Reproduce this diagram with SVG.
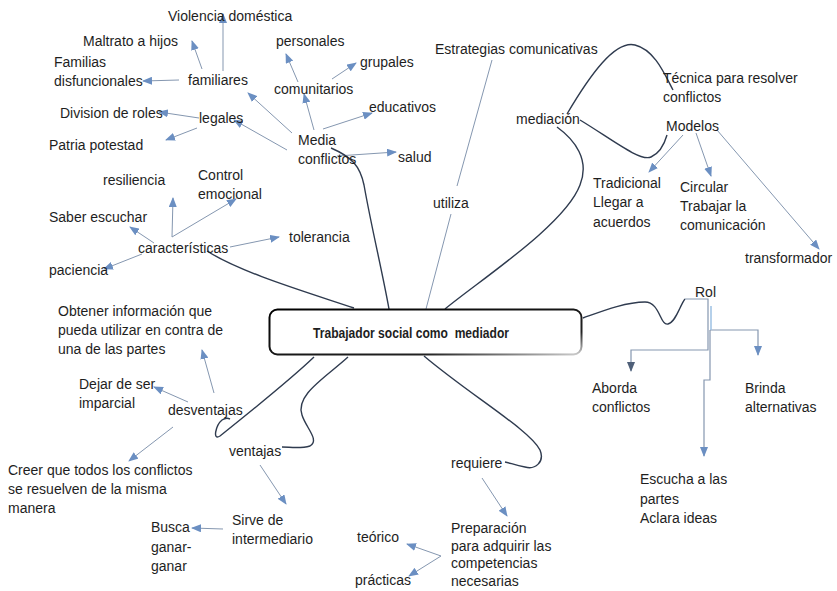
<svg xmlns="http://www.w3.org/2000/svg" width="837" height="591" viewBox="0 0 837 591">
<style>
text{font-family:"Liberation Sans",Arial,sans-serif;font-size:14px;fill:#1e1e1e}
.a{fill:none;stroke:#8597b0;stroke-width:1;marker-end:url(#ah)}
.c{fill:none;stroke:#2f3b4f;stroke-width:1.4}
.t{fill:none;stroke:#8597b0;stroke-width:1}
.r{fill:none;stroke:#8597b0;stroke-width:1.2}
</style>
<defs>
<marker id="ah" markerWidth="10" markerHeight="8" refX="9" refY="4" orient="auto" markerUnits="userSpaceOnUse"><path d="M0,0 L10,4 L0,8 z" fill="#6b8fc2"/></marker>
<marker id="ah2" markerWidth="10" markerHeight="8" refX="9" refY="4" orient="auto" markerUnits="userSpaceOnUse"><path d="M0,0 L10,4 L0,8 z" fill="#4f6079"/></marker>
<linearGradient id="bg" x1="0" y1="0" x2="1" y2="1">
<stop offset="0" stop-color="#000"/><stop offset="0.75" stop-color="#222"/><stop offset="1" stop-color="#cfcfcf"/>
</linearGradient>
</defs>
<rect width="837" height="591" fill="#fff"/>

<g id="connectors">
<path class="a" d="M223,71 L223,14"/>
<path class="a" d="M202,69 L192,41"/>
<path class="a" d="M179,80 L143,81"/>
<path class="a" d="M292,133 L248,93"/>
<path class="a" d="M314,130 L304,94"/>
<path class="a" d="M298,82 L286,54"/>
<path class="a" d="M332,79 L356,63"/>
<path class="a" d="M323,129 L372,113"/>
<path class="a" d="M287,150 L234,120"/>
<path class="a" d="M199,118 L159,112"/>
<path class="a" d="M197,128 L166,140"/>
<path class="a" d="M337,156 L396,152"/>
<path class="c" d="M331,148 C352,157 360,166 364,185 C372,230 382,270 389,309"/>
<path class="a" d="M172,237 L173,198"/>
<path class="a" d="M172,237 L236,199"/>
<path class="a" d="M154,243 L130,227"/>
<path class="a" d="M230,247 L279,237"/>
<path class="a" d="M142,254 L104,269"/>
<path class="c" d="M207,251 C240,272 300,290 354,308"/>
<path class="t" d="M492,60 L457,186"/>
<path class="t" d="M451,214 L426,309"/>
<path class="c" d="M567,114 C590,75 615,40 635,45 C655,50 665,75 673,90"/>
<path class="c" d="M580,120 C610,138 640,162 651,157 C660,153 665,142 667,135"/>
<path class="c" d="M557,127 C575,140 590,160 580,185 C565,225 480,280 445,309"/>
<path class="a" d="M683,135 L649,172"/>
<path class="a" d="M696,133 L711,176"/>
<path class="a" d="M717,130 L819,249"/>
<path class="c" d="M583,318 C600,312 625,302 645,302 C660,302 660,326 668,324 C676,322 680,305 685,299"/>
<path class="r" d="M685,299 L708,299 L708,350 L631,350 L631,371" style="marker-end:url(#ah2)"/>
<path class="r" d="M710,330 L758,330 L758,355" style="marker-end:url(#ah)"/>
<path class="r" d="M710,330 L710,380 L704,380 L704,456" style="marker-end:url(#ah)"/>
<path d="M711,306 L711,330" stroke="#9dc0e3" stroke-width="1.5"/>
<path class="c" d="M314,357 C290,380 240,420 220,436 C212,441 216,425 222,420 C225,418 228,418 230,419"/>
<path class="c" d="M348,357 C325,378 295,395 302,415 C306,428 320,440 310,446 C300,449 290,447 282,447"/>
<path class="c" d="M424,356 C470,395 530,430 540,450 C545,462 535,470 525,467 C515,465 510,463 505,462"/>
<path class="a" d="M214,393 L202,350"/>
<path class="a" d="M188,402 L154,387"/>
<path class="a" d="M173,427 L129,461"/>
<path class="a" d="M260,465 L286,504"/>
<path class="a" d="M223,529 L192,528"/>
<path class="a" d="M482,478 L507,516"/>
<path class="a" d="M441,556 L407,544"/>
<path class="a" d="M441,556 L409,576"/>
</g>

<g id="center">
<rect x="269.5" y="309.5" width="312" height="45" rx="8" fill="#fff" stroke="url(#bg)" stroke-width="2"/>
<text x="313" y="338" font-weight="bold" font-size="13" textLength="196" lengthAdjust="spacingAndGlyphs" xml:space="preserve" style="white-space:pre">Trabajador social como  mediador</text>
</g>

<g id="violencia"><text x="168" y="21">Violencia doméstica</text></g>
<g id="maltrato"><text x="83" y="46">Maltrato a hijos</text></g>
<g id="familias"><text x="54" y="67">Familias<tspan x="54" y="86">disfuncionales</tspan></text></g>
<g id="familiares"><text x="188" y="85">familiares</text></g>
<g id="personales"><text x="276" y="46">personales</text></g>
<g id="grupales"><text x="360" y="67">grupales</text></g>
<g id="comunitarios"><text x="274" y="94">comunitarios</text></g>
<g id="educativos"><text x="369" y="112">educativos</text></g>
<g id="division"><text x="60" y="118">Division de roles</text></g>
<g id="legales"><text x="199" y="123">legales</text></g>
<g id="patria"><text x="49" y="150">Patria potestad</text></g>
<g id="media"><text x="298" y="145">Media<tspan x="298" y="164">conflictos</tspan></text></g>
<g id="salud"><text x="398" y="162">salud</text></g>

<g id="resiliencia"><text x="103" y="185">resiliencia</text></g>
<g id="control"><text x="198" y="180">Control<tspan x="198" y="199">emocional</tspan></text></g>
<g id="saber"><text x="49" y="222">Saber escuchar</text></g>
<g id="caracteristicas"><text x="138" y="253">características</text></g>
<g id="tolerancia"><text x="289" y="242">tolerancia</text></g>
<g id="paciencia"><text x="49" y="275">paciencia</text></g>

<g id="estrategias"><text x="435" y="54">Estrategias comunicativas</text></g>
<g id="utiliza"><text x="433" y="208">utiliza</text></g>
<g id="mediacion"><text x="516" y="124">mediación</text></g>
<g id="tecnica"><text x="663" y="83">Técnica para resolver<tspan x="663" y="102">conflictos</tspan></text></g>
<g id="modelos"><text x="666" y="131">Modelos</text></g>
<g id="tradicional"><text x="593" y="188">Tradicional<tspan x="593" y="207">Llegar a</tspan><tspan x="593" y="227">acuerdos</tspan></text></g>
<g id="circular"><text x="680" y="192">Circular<tspan x="680" y="211">Trabajar la</tspan><tspan x="680" y="230">comunicación</tspan></text></g>
<g id="transformador"><text x="745" y="263">transformador</text></g>

<g id="rol"><text x="695" y="297">Rol</text></g>
<g id="aborda"><text x="592" y="393">Aborda<tspan x="592" y="412">conflictos</tspan></text></g>
<g id="brinda"><text x="745" y="393">Brinda<tspan x="745" y="412">alternativas</tspan></text></g>
<g id="escucha"><text x="640" y="484">Escucha a las<tspan x="640" y="504">partes</tspan><tspan x="640" y="523">Aclara ideas</tspan></text></g>

<g id="obtener"><text x="58" y="316">Obtener información que<tspan x="58" y="335">pueda utilizar en contra de</tspan><tspan x="58" y="354">una de las partes</tspan></text></g>
<g id="dejar"><text x="79" y="389">Dejar de ser<tspan x="79" y="408">imparcial</tspan></text></g>
<g id="desventajas"><text x="168" y="415">desventajas</text></g>
<g id="creer"><text x="8" y="475">Creer que todos los conflictos<tspan x="8" y="494">se resuelven de la misma</tspan><tspan x="8" y="513">manera</tspan></text></g>
<g id="ventajas"><text x="229" y="456">ventajas</text></g>
<g id="sirve"><text x="232" y="525">Sirve de<tspan x="232" y="544">intermediario</tspan></text></g>
<g id="busca"><text x="151" y="532">Busca<tspan x="151" y="552">ganar-</tspan><tspan x="151" y="571">ganar</tspan></text></g>

<g id="requiere"><text x="451" y="468">requiere</text></g>
<g id="preparacion"><text x="451" y="533" font-size="13">Preparación<tspan x="451" y="551">para adquirir las</tspan><tspan x="451" y="568">competencias</tspan><tspan x="451" y="586">necesarias</tspan></text></g>
<g id="teorico"><text x="357" y="542">teórico</text></g>
<g id="practicas"><text x="355" y="585">prácticas</text></g>
</svg>
